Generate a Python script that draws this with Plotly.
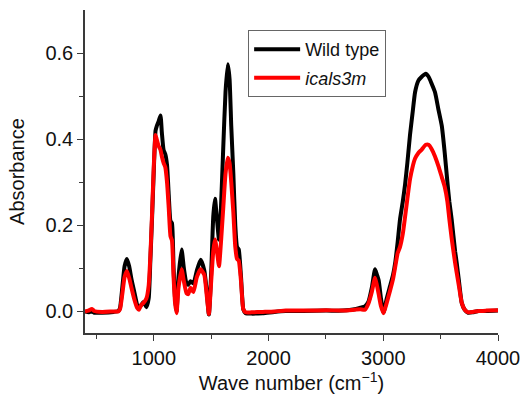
import plotly.graph_objects as go

wavenumber = [400, 430, 460, 480, 550, 650, 690, 705, 725, 745, 765, 785, 805, 830, 855, 870,
              890, 910, 935, 955, 970, 985, 1000, 1015, 1025, 1040, 1058, 1070, 1085, 1100,
              1115, 1130, 1145, 1158, 1172, 1185, 1198, 1215, 1242, 1262, 1285, 1300, 1320,
              1345, 1375, 1408, 1440, 1460, 1480, 1500, 1518, 1533, 1550, 1568, 1585, 1605,
              1625, 1645, 1660, 1675, 1693, 1710, 1725, 1740, 1760, 1780, 1800, 1850, 1950,
              2050, 2150, 2300, 2500, 2650, 2750, 2800, 2840, 2870, 2900, 2928, 2945, 2960,
              2980, 3002, 3030, 3059, 3085, 3105, 3125, 3146, 3170, 3190, 3210, 3233, 3255,
              3277, 3306, 3335, 3370, 3395, 3420, 3451, 3480, 3510, 3535, 3559, 3576, 3596,
              3626, 3640, 3660, 3684, 3710, 3740, 3780, 3830, 3900, 4000]

wild_type = [0.000, -0.002, 0.000, -0.003, -0.003, -0.001, 0.001, 0.008, 0.055, 0.105, 0.122,
             0.105, 0.075, 0.045, 0.015, 0.008, 0.015, 0.022, 0.010, 0.030, 0.120, 0.220,
             0.330, 0.420, 0.430, 0.440, 0.455, 0.415, 0.375, 0.365, 0.340, 0.270, 0.210,
             0.205, 0.100, 0.030, 0.000, 0.080, 0.144, 0.100, 0.065, 0.062, 0.070, 0.065,
             0.095, 0.120, 0.095, 0.050, -0.007, 0.090, 0.220, 0.262, 0.215, 0.167, 0.240,
             0.380, 0.510, 0.574, 0.540, 0.430, 0.320, 0.200, 0.150, 0.144, 0.080, 0.005,
             -0.004, -0.005, -0.004, -0.001, 0.001, 0.001, 0.002, 0.002, 0.005, 0.009, 0.012,
             0.022, 0.055, 0.098, 0.085, 0.072, 0.030, -0.003, 0.030, 0.059, 0.085, 0.115,
             0.160, 0.214, 0.255, 0.295, 0.345, 0.410, 0.460, 0.509, 0.536, 0.545, 0.552,
             0.545, 0.530, 0.509, 0.470, 0.431, 0.370, 0.300, 0.255, 0.214, 0.140, 0.113,
             0.070, 0.020, 0.004, -0.003, -0.002, 0.001, 0.001, 0.002]

icals3m = [0.000, 0.002, 0.006, 0.001, -0.001, 0.000, 0.000, 0.005, 0.040, 0.080, 0.094,
           0.078, 0.055, 0.028, 0.008, 0.004, 0.015, 0.020, 0.030, 0.060, 0.130, 0.230,
           0.340, 0.410, 0.400, 0.385, 0.375, 0.360, 0.345, 0.335, 0.300, 0.240, 0.175,
           0.165, 0.080, 0.020, -0.004, 0.055, 0.098, 0.070, 0.042, 0.040, 0.055, 0.045,
           0.080, 0.098, 0.085, 0.040, -0.006, 0.070, 0.140, 0.167, 0.140, 0.105, 0.160,
           0.240, 0.320, 0.357, 0.345, 0.300, 0.230, 0.150, 0.122, 0.118, 0.070, 0.005,
           -0.002, -0.002, -0.001, 0.000, 0.002, 0.002, 0.003, 0.002, 0.004, 0.005, 0.004,
           0.018, 0.045, 0.078, 0.060, 0.040, 0.012, -0.004, 0.020, 0.048, 0.075, 0.105,
           0.135, 0.150, 0.180, 0.220, 0.262, 0.307, 0.335, 0.355, 0.368, 0.376, 0.387,
           0.387, 0.378, 0.360, 0.338, 0.312, 0.290, 0.255, 0.214, 0.170, 0.113, 0.090,
           0.058, 0.020, 0.004, -0.002, -0.001, 0.001, 0.002, 0.003]

x_ticks = [1000, 2000, 3000, 4000]
y_ticks = [0.0, 0.2, 0.4, 0.6]
y_tick_labels = ["0.0", "0.2", "0.4", "0.6"]

FONT = "Liberation Sans, Arial, Helvetica, sans-serif"
AXC = "#3a3a3a"

fig = go.Figure()
fig.add_trace(go.Scatter(x=wavenumber, y=wild_type, mode="lines", name="Wild type",
                         legendgroup="a",
                         line=dict(color="#000000", width=4, shape="spline", smoothing=0.5)))
fig.add_trace(go.Scatter(x=wavenumber, y=icals3m, mode="lines", name="<i>icals3m</i>",
                         legendgroup="b",
                         line=dict(color="#ff0000", width=4, shape="spline", smoothing=0.5)))

fig.update_layout(
    width=522, height=394,
    margin=dict(l=85, r=24, t=10, b=61, autoexpand=False),
    paper_bgcolor="white", plot_bgcolor="white",
    font=dict(family=FONT, size=20, color="#111111"),
    showlegend=True,
    legend=dict(x=0.395, y=0.938, xanchor="left", yanchor="top",
                bordercolor="#666666", borderwidth=1, bgcolor="white",
                font=dict(family=FONT, size=18, color="#111111"),
                tracegroupgap=2, traceorder="grouped", itemwidth=46),
    xaxis=dict(range=[400, 4000], tickvals=x_ticks, ticks="outside", ticklen=6,
               tickwidth=1.3, tickcolor=AXC, showline=True, linecolor=AXC, linewidth=1.5,
               showgrid=False, zeroline=False, tickfont=dict(size=20), automargin=False,
               minor=dict(tickvals=[500, 1500, 2500, 3500], ticks="outside", ticklen=4,
                          tickwidth=1.3, tickcolor=AXC),
               title=dict(text="Wave number (cm<sup>−1</sup>)", standoff=3,
                          font=dict(size=20))),
    yaxis=dict(range=[-0.05, 0.70], tickvals=y_ticks, ticktext=y_tick_labels,
               ticks="outside", ticklen=6, tickwidth=1.3, tickcolor=AXC,
               showline=True, linecolor=AXC, linewidth=1.5, showgrid=False,
               zeroline=False, tickfont=dict(size=20), automargin=False,
               minor=dict(tickvals=[0.1, 0.3, 0.5], ticks="outside", ticklen=4,
                          tickwidth=1.3, tickcolor=AXC),
               title=dict(text="Absorbance", standoff=15, font=dict(size=20))),
)

fig.write_html("out.html")
